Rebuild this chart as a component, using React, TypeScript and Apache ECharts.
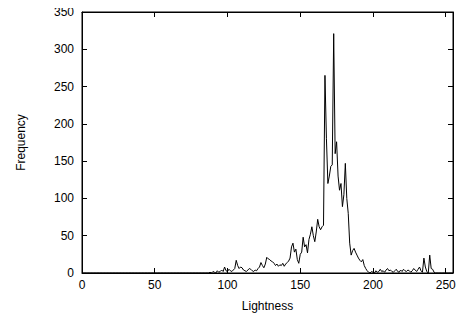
import React, { useEffect, useRef } from "react";
import * as echarts from "echarts";

const xTicks = [0, 50, 100, 150, 200, 250];
const yTicks = [0, 50, 100, 150, 200, 250, 300, 350];

// Frequency for lightness 0..255
const zeros88 = new Array(88).fill(0);
const mid = [
  1, 0, 2, 1, 0, 3, 1, 2, 4, 2, 8, 3, 2, 5, 3, 2, 4, 6, 17, 10, // 88-107
  6, 8, 7, 4, 3, 2, 4, 6, 5, 3, 2, 4, 3, 6, 8, 14, 10, 7, 12, 21, // 108-127
  19, 18, 16, 15, 13, 10, 12, 9, 11, 10, 13, 9, 12, 14, 16, 20, 35, 40, 28, 32, // 128-147
  18, 13, 25, 28, 48, 35, 38, 27, 45, 52, 62, 50, 42, 55, 72, 62, 58, 62, 64, 265, // 148-167
  180, 120, 130, 143, 145, 321, 160, 176, 130, 111, 120, 89, 105, 147, 100, 80, 40, 24, 30, 33, // 168-187
  28, 24, 20, 17, 15, 18, 10, 6, 3, 1, 0, 2, 1, 0, 3, 1, 2, 5, 2, 3, // 188-207
  1, 4, 6, 3, 4, 2, 1, 3, 5, 2, 1, 4, 2, 5, 3, 2, 4, 3, 1, 3, // 208-227
  6, 4, 2, 5, 8, 3, 1, 20, 8, 2, 0, 24, 6, 5, 1, // 228-242
];
const tail = new Array(256 - 88 - mid.length).fill(0);
const frequency: number[] = [...zeros88, ...mid, ...tail];

const FONT = "'Liberation Sans', Arial, Helvetica, sans-serif";

export default function App() {
  const ref = useRef<HTMLDivElement>(null);
  useEffect(() => {
    if (!ref.current) return;
    const chart = echarts.init(ref.current, undefined, { renderer: "svg" });
    const tickCommon = {
      show: true,
      inside: true,
      length: 5,
      lineStyle: { color: "#000", width: 1 },
    };
    chart.setOption({
      animation: false,
      backgroundColor: "#fff",
      grid: {
        left: 82,
        right: 12,
        top: 12,
        bottom: 50,
        show: true,
        borderColor: "#000",
        borderWidth: 1,
      },
      xAxis: [
        {
          type: "value",
          min: 0,
          max: 255,
          interval: 50,
          name: "Lightness",
          nameLocation: "middle",
          nameGap: 27,
          nameTextStyle: { color: "#000", fontSize: 12, fontFamily: FONT },
          axisLine: { show: true, onZero: false, lineStyle: { color: "#000" } },
          axisTick: tickCommon,
          axisLabel: {
            color: "#000",
            fontSize: 12,
            fontFamily: FONT,
            margin: 6,
            formatter: (v: number) => (xTicks.includes(v) ? String(v) : ""),
          },
          splitLine: { show: false },
        },
        {
          type: "value",
          position: "top",
          min: 0,
          max: 255,
          interval: 50,
          axisLine: { show: true, onZero: false, lineStyle: { color: "#000" } },
          axisTick: tickCommon,
          axisLabel: { show: false },
          splitLine: { show: false },
        },
      ],
      yAxis: [
        {
          type: "value",
          min: 0,
          max: 350,
          interval: 50,
          name: "Frequency",
          nameLocation: "middle",
          nameGap: 55,
          nameTextStyle: { color: "#000", fontSize: 12, fontFamily: FONT },
          axisLine: { show: true, onZero: false, lineStyle: { color: "#000" } },
          axisTick: tickCommon,
          axisLabel: {
            color: "#000",
            fontSize: 12,
            fontFamily: FONT,
            margin: 8,
            formatter: (v: number) => (yTicks.includes(v) ? String(v) : ""),
          },
          splitLine: { show: false },
        },
        {
          type: "value",
          position: "right",
          min: 0,
          max: 350,
          interval: 50,
          axisLine: { show: true, onZero: false, lineStyle: { color: "#000" } },
          axisTick: tickCommon,
          axisLabel: { show: false },
          splitLine: { show: false },
        },
      ],
      series: [
        {
          type: "line",
          data: frequency.map((f, i) => [i, f]),
          showSymbol: false,
          symbol: "none",
          lineStyle: { color: "#000", width: 1 },
          xAxisIndex: 0,
          yAxisIndex: 0,
        },
      ],
    });
    return () => chart.dispose();
  }, []);
  return <div ref={ref} style={{ width: 465, height: 323, margin: -8 }} />;
}
